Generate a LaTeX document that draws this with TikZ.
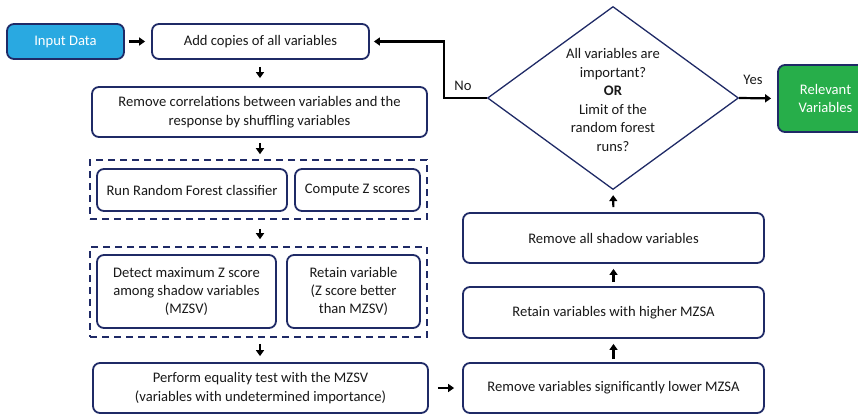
\documentclass[tikz,border=0pt]{standalone}
\usepackage{fontspec}
\setmainfont{Carlito}
\usetikzlibrary{arrows.meta,shapes.geometric}
\definecolor{navy}{HTML}{1F2A66}
\definecolor{skyfill}{HTML}{29A9E1}
\definecolor{greenfill}{HTML}{27AE4A}
\tikzset{
  txt/.style={font=\fontsize{14.6}{18.4}\selectfont, text=black!90},
  box/.style={txt, draw=navy, line width=1.8pt, rounded corners=7pt, fill=white,
    align=center, inner sep=0pt},
  group/.style={draw=navy, line width=1.6pt, dash pattern=on 7pt off 5pt, inner sep=0pt},
  flow/.style={line width=2.2pt, -{Triangle[length=6pt,width=8pt]}},
}
\begin{document}
\begin{tikzpicture}[x=1pt,y=-1pt]
\useasboundingbox (0,0) rectangle (858,415);
\clip (0,0) rectangle (858,415);

% left column
\node[box, fill=skyfill, text=white, minimum width=117pt, minimum height=35pt] (input) at (65.5,41.5) {Input Data};
\node[box, minimum width=217pt, minimum height=35pt] (add) at (260.5,41.5) {Add copies of all variables};
\node[box, minimum width=335pt, minimum height=50pt] (shuffle) at (259.5,112) {Remove correlations between variables and the\\response by shuffling variables};

\node[group, minimum width=337pt, minimum height=59pt] (g1) at (258.5,189.5) {};
\node[box, minimum width=190pt, minimum height=42pt] (rf) at (192,190) {Run Random Forest classifier};
\node[box, minimum width=125pt, minimum height=42pt] (z) at (357.5,190) {Compute Z scores};

\node[group, minimum width=337pt, minimum height=90pt] (g2) at (258.5,292) {};
\node[box, minimum width=179pt, minimum height=73pt] (mzsv) at (186.5,291.5) {Detect maximum Z score\\among shadow variables\\(MZSV)};
\node[box, minimum width=133pt, minimum height=73pt] (keep) at (353.5,291.5) {Retain variable\\(Z score better\\than MZSV)};

\node[box, minimum width=335pt, minimum height=50pt] (eq) at (260.5,388) {Perform equality test with the MZSV\\(variables with undetermined importance)};

% right column
\node[box, minimum width=301pt, minimum height=50pt] (low) at (613.5,388) {Remove variables significantly lower MZSA};
\node[box, minimum width=301pt, minimum height=51pt] (high) at (613.5,312.5) {Retain variables with higher MZSA};
\node[box, minimum width=301pt, minimum height=50pt] (shadow) at (613.5,238) {Remove all shadow variables};

\node[draw=navy, line width=1.3pt, diamond, aspect=1.37, minimum width=251pt, minimum height=183pt, inner sep=0pt] (test) at (613,98) {};
\node[txt, align=center, font=\fontsize{14.6}{18.6}\selectfont] (qtext) at (613,100)
  {All variables are\\important?\\\textbf{OR}\\Limit of the\\random forest\\runs?};

\node[box, fill=greenfill, text=white, minimum width=95pt, minimum height=67pt] (rel) at (825.5,98.5) {Relevant\\Variables};

% connectors
\coordinate (bend) at (444,41.5);
\draw[flow, shorten <=4pt, shorten >=6pt] (input.east) -- (add.west);
\draw[flow, shorten <=7pt, shorten >=8pt] (add.south -| 260,0) -- (shuffle.north -| 260,0);
\draw[flow, shorten <=5pt, shorten >=5pt] (shuffle.south -| 260,0) -- (g1.north -| 260,0);
\draw[flow, shorten <=9pt, shorten >=7pt] (g1.south -| 260,0) -- (g2.north -| 260,0);
\draw[flow, shorten <=6pt, shorten >=6pt] (g2.south -| 260,0) -- (eq.north -| 260,0);
\draw[flow, shorten <=9pt, shorten >=8pt] (eq.east) -- (low.west);
\draw[flow, shorten <=3pt, shorten >=5pt] (low.north) -- (high.south);
\draw[flow, shorten <=4pt, shorten >=5pt] (high.north) -- (shadow.south);
\draw[flow, shorten <=5pt, shorten >=5pt] (shadow.north) -- (test.south);
\draw[flow, shorten >=4pt] (test.west) -| (bend) -- (add.east);
\draw[flow, shorten >=6pt] (test.east) -- (rel.west);
\node[txt] (no) at (463,86) {No};
\node[txt] (yes) at (753,80) {Yes};
\end{tikzpicture}
\end{document}
